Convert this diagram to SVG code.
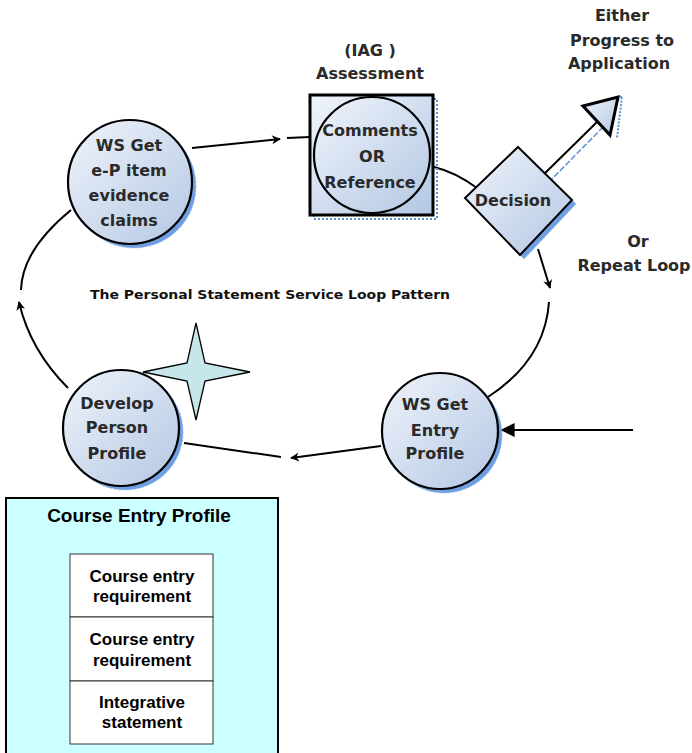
<svg xmlns="http://www.w3.org/2000/svg" width="692" height="753" viewBox="0 0 692 753">
<defs>
<linearGradient id="g" x1="0" y1="0" x2="1" y2="1">
<stop offset="0" stop-color="#f0f4fb"/>
<stop offset="1" stop-color="#b3c7e3"/>
</linearGradient>
<marker id="ah" viewBox="0 0 10 10" refX="9" refY="5" markerWidth="10" markerHeight="9" markerUnits="userSpaceOnUse" orient="auto">
<path d="M0,0 L10,5 L0,10 L3,5 Z" fill="#000"/>
</marker>
<marker id="ahb" viewBox="0 0 10 10" refX="9" refY="5" markerWidth="14" markerHeight="14" markerUnits="userSpaceOnUse" orient="auto">
<path d="M0,0 L10,5 L0,10 Z" fill="#000"/>
</marker>
</defs>
<style>
.t{font-family:"DejaVu Sans",Verdana,sans-serif;font-weight:bold;font-size:16px;fill:#2a2a2a;text-anchor:middle}
.a{font-family:"Liberation Sans",Arial,sans-serif;font-weight:bold;fill:#000;text-anchor:middle}
.sh{fill:#6f9fe0;stroke:#9cc0ee;stroke-width:1;stroke-dasharray:2 2}
.nd{fill:url(#g);stroke:#000;stroke-width:2.2}
.c{fill:none;stroke:#000;stroke-width:2}
</style>
<rect width="692" height="753" fill="#fff"/>

<g id="connectors">
<path class="c" d="M192,148 L280,139" marker-end="url(#ah)"/>
<path class="c" d="M287,138 L310,137"/>
<path class="c" d="M434,167 Q455,172 477,188"/>
<path class="c" d="M538,249 L550,288" marker-end="url(#ah)"/>
<path class="c" d="M549,302 Q545,360 488,397"/>
<path class="c" d="M633,430 L502,430" stroke-width="1.5" marker-end="url(#ahb)"/>
<path class="c" d="M381,446 L291,458" marker-end="url(#ah)"/>
<path class="c" d="M281,457 L184,443"/>
<path class="c" d="M68,388 Q30,350 19,302" marker-end="url(#ah)"/>
<path class="c" d="M21,290 Q22,250 71,210"/>
<path d="M543,188 L612,118" fill="none" stroke="#5b8fd6" stroke-width="1.5" stroke-dasharray="6 2"/>
<path class="c" d="M537,181 L598,121"/>
</g>

<g id="arrow-head-progress">
<path d="M612,104 L622,96 L617,138" fill="none" stroke="#5b8fd6" stroke-width="2" stroke-dasharray="2 1.5"/>
<polygon points="583,106 618,97 610,135" fill="url(#g)" stroke="#000" stroke-width="3" stroke-linejoin="miter"/>
</g>

<g id="node-evidence">
<circle class="sh" cx="134" cy="186" r="62"/>
<circle class="nd" cx="130" cy="182" r="62"/>
<text class="t" x="129" y="151">WS Get</text>
<text class="t" x="129" y="176">e-P item</text>
<text class="t" x="129" y="201">evidence</text>
<text class="t" x="129" y="226">claims</text>
</g>

<g id="node-assessment">
<text class="t" x="370" y="56">(IAG )</text>
<text class="t" x="370" y="79">Assessment</text>
<rect x="314" y="99" width="123" height="120" fill="none" stroke="#5b8fd6" stroke-width="2" stroke-dasharray="2 2"/>
<rect x="310" y="95" width="123" height="120" fill="url(#g)" stroke="#000" stroke-width="3"/>
<circle cx="372" cy="155" r="58" fill="url(#g)" stroke="#000" stroke-width="2.2"/>
<text class="t" x="370" y="136">Comments</text>
<text class="t" x="372" y="162">OR</text>
<text class="t" x="370" y="188">Reference</text>
</g>

<g id="node-decision">
<polygon points="522,151 576,204 524,259 469,202" fill="#6f9fe0" stroke="#9cc0ee" stroke-dasharray="2 2"/>
<polygon points="518,147 572,200 520,255 465,198" fill="url(#g)" stroke="#000" stroke-width="2"/>
<text class="t" x="513" y="206">Decision</text>
</g>

<g id="label-either">
<text class="t" x="622" y="21">Either</text>
<text class="t" x="622" y="46">Progress to</text>
<text class="t" x="619" y="69">Application</text>
</g>

<g id="label-repeat">
<text class="t" x="638" y="247">Or</text>
<text class="t" x="634" y="271">Repeat Loop</text>
</g>

<text x="90" y="299" font-family="DejaVu Sans, Verdana, sans-serif" font-weight="bold" font-size="12" fill="#111" textLength="360" lengthAdjust="spacingAndGlyphs">The Personal Statement Service Loop Pattern</text>

<g id="node-entry">
<circle class="sh" cx="444" cy="435" r="58"/>
<circle class="nd" cx="440" cy="431" r="58"/>
<text class="t" x="435" y="410">WS Get</text>
<text class="t" x="435" y="436">Entry</text>
<text class="t" x="435" y="459">Profile</text>
</g>

<g id="node-develop">
<circle class="sh" cx="125" cy="432" r="58"/>
<circle class="nd" cx="121" cy="428" r="58"/>
<text class="t" x="117" y="409">Develop</text>
<text class="t" x="117" y="433">Person</text>
<text class="t" x="117" y="459">Profile</text>
</g>

<g id="star">
<polygon points="196,323 205,363 250,372 205,381 196,420 187,381 143,372 187,363" fill="#c6e6ea" stroke="#000" stroke-width="1.3"/>
</g>

<g id="course-entry-profile">
<rect x="6" y="498" width="272" height="270" fill="#ccffff" stroke="#000" stroke-width="2"/>
<text class="a" x="139" y="522" font-size="19">Course Entry Profile</text>
<rect x="70" y="554" width="143" height="63" fill="#fff" stroke="#333" stroke-width="1"/>
<rect x="70" y="617" width="143" height="64" fill="#fff" stroke="#333" stroke-width="1"/>
<rect x="70" y="681" width="143" height="63" fill="#fff" stroke="#333" stroke-width="1"/>
<text class="a" x="142" y="582" font-size="17">Course entry</text>
<text class="a" x="142" y="602" font-size="17">requirement</text>
<text class="a" x="142" y="645" font-size="17">Course entry</text>
<text class="a" x="142" y="666" font-size="17">requirement</text>
<text class="a" x="142" y="708" font-size="17">Integrative</text>
<text class="a" x="142" y="728" font-size="17">statement</text>
</g>
</svg>
